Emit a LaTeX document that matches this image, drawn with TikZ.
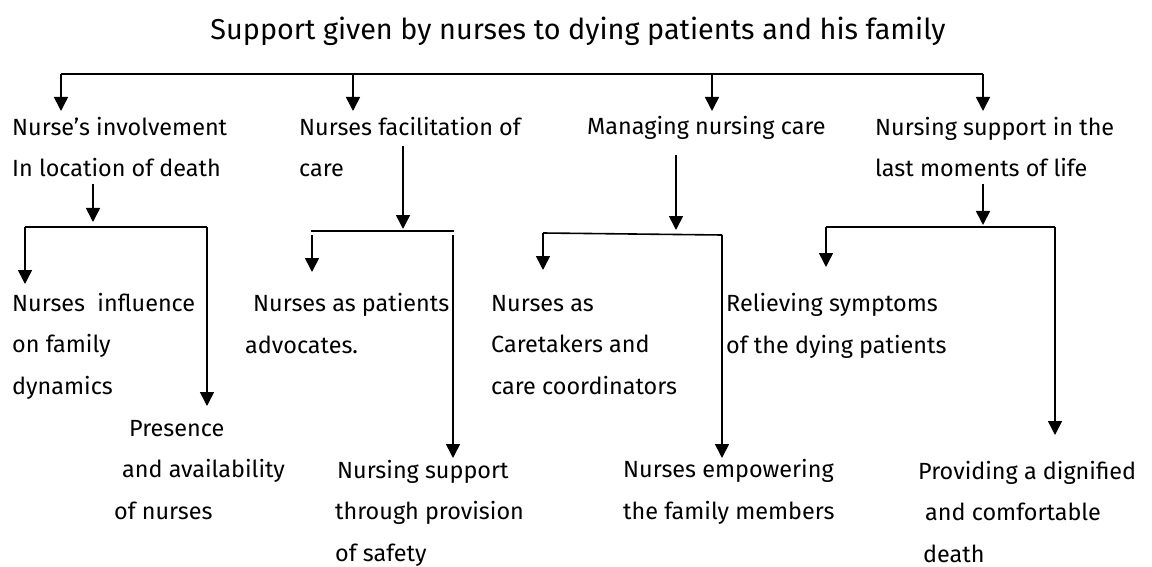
\documentclass[tikz,border=0pt]{standalone}
\usepackage{fontspec}
\setmainfont{Fira Sans}
\usetikzlibrary{arrows.meta,positioning,calc}

\begin{document}
\begin{tikzpicture}[
  x=1pt,y=-1pt,
  item/.style={anchor=base west,align=left,inner sep=0pt,font=\fontsize{23.4}{41.5}\selectfont},
  link/.style={-{Triangle[length=14pt,width=14pt]},line width=1.6pt},
  rail/.style={line width=1.6pt}
]
\useasboundingbox (0,0) rectangle (1152,567);
\node[anchor=base,inner sep=0pt,font=\fontsize{28.8}{32}\selectfont] (title) at (578,40)
  {Support given by nurses to dying patients and his family};

% first level (placed by the baseline of the last line)
\node[item] (inv) at (12,177) {Nurse’s involvement\\In location of death};
\node[item] (fac) at (299,177) {Nurses facilitation of\\care};
\node[item] (man) at (587,135) {Managing nursing care};
\node[item] (last) at (875,177) {Nursing support in the\\last moments of life};

% second level
\node[item] (infl) at (12,394) {Nurses~ influence\\on family\\dynamics};
\node[item] (pres) at (114,519) {\hspace*{15pt}Presence\\\hspace*{8pt}and availability\\of nurses};
\node[item] (adv) at (245,353) {\hspace*{8pt}Nurses as patients\\advocates.};
\node[item] (safe) at (335,561) {\hspace*{2pt}Nursing support\\through provision\\of safety};
\node[item] (cart) at (491,394) {Nurses as\\Caretakers and\\care coordinators};
\node[item] (emp) at (623,519) {Nurses empowering\\the family members};
\node[item] (rel) at (726,353) {Relieving symptoms\\of the dying patients};
\node[item] (dign) at (918,562) {Providing a dignified\\\hspace*{7pt}and comfortable\\\hspace*{5pt}death};

% top rail
\coordinate (railL) at (61,74);
\coordinate (railR) at (983,74);
\coordinate (invIn) at (61,111);
\coordinate (facIn) at (353,111);
\coordinate (manIn) at (712,111);
\coordinate (lastIn) at (983,111);
\draw[rail] (railL) -- (railR);
\draw[link] (railL) -- (invIn);
\draw[link] (facIn |- railL) -- (facIn);
\draw[link] (manIn |- railL) -- (manIn);
\draw[link] (railR) -- (lastIn);

% location of death
\coordinate (invOut) at (93,184);
\coordinate (invHub) at (93,222);
\coordinate (invL) at (25,227);
\coordinate (invR) at (207,227);
\coordinate (inflIn) at (25,284);
\coordinate (presIn) at (207,406);
\draw[link] (invOut) -- (invHub);
\draw[rail] (invL) -- (invR);
\draw[link] (invL) -- (inflIn);
\draw[link] (invR) -- (presIn);

% facilitation of care
\coordinate (facOut) at (403,146);
\coordinate (facHub) at (403,229);
\coordinate (facL) at (311,231);
\coordinate (facR) at (454,231);
\coordinate (advTop) at (312,235);
\coordinate (advIn) at (312,272);
\coordinate (safeTop) at (453,235);
\coordinate (safeIn) at (453,458);
\draw[link] (facOut) -- (facHub);
\draw[rail] (facL) -- (facR);
\draw[link] (advTop) -- (advIn);
\draw[link] (safeTop) -- (safeIn);

% managing nursing care
\coordinate (manOut) at (676,155);
\coordinate (manHub) at (676,230);
\coordinate (manL) at (543,233);
\coordinate (manR) at (722,235);
\coordinate (cartIn) at (543,270);
\coordinate (empIn) at (722,458);
\draw[link] (manOut) -- (manHub);
\draw[rail] (manL) -- (manR);
\draw[link] (manL) -- (cartIn);
\draw[link] (manR) -- (empIn);

% last moments of life
\coordinate (lastOut) at (983,184);
\coordinate (lastHub) at (983,225);
\coordinate (lastL) at (826,227);
\coordinate (lastR) at (1055,227);
\coordinate (relIn) at (826,267);
\coordinate (dignIn) at (1055,435);
\draw[link] (lastOut) -- (lastHub);
\draw[rail] (lastL) -- (lastR);
\draw[link] (lastL) -- (relIn);
\draw[link] (lastR) -- (dignIn);
\end{tikzpicture}
\end{document}
